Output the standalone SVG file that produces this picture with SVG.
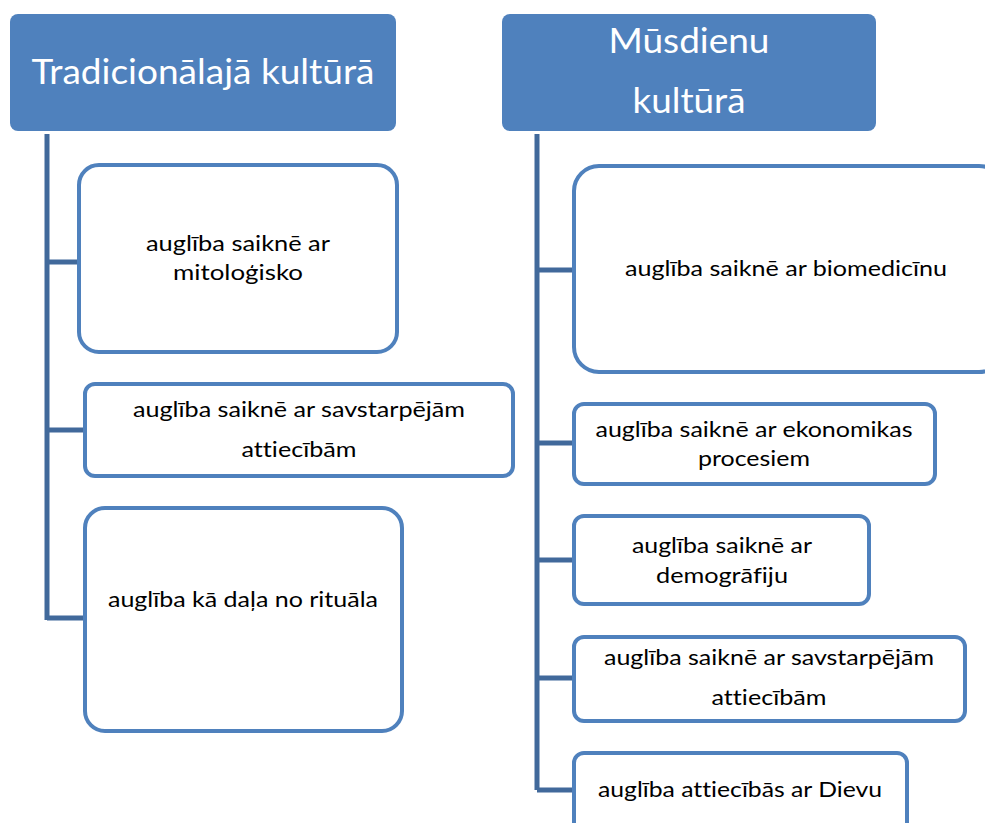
<svg xmlns="http://www.w3.org/2000/svg" width="985" height="823" viewBox="0 0 985 823">
<style>
.hdr{fill:#4F81BD;}
.box{fill:#FFFFFF;stroke:#4F81BD;stroke-width:4;}
.conn{fill:none;stroke:#41699B;stroke-width:5;}
.ht{font-family:Lato,"Liberation Sans",Arial,sans-serif;font-size:34px;fill:#FFFFFF;text-anchor:middle;font-variant-ligatures:none;}
.bt{font-family:Lato,"Liberation Sans",Arial,sans-serif;font-size:21px;fill:#000000;text-anchor:middle;font-variant-ligatures:none;}
</style>
<rect width="985" height="823" fill="#FFFFFF"/>
<g id="connectors">
<path class="conn" d="M47,134 V620 M47,262 H80 M47,430 H86 M47,618 H86"/>
<path class="conn" d="M537,134 V790 M537,270 H575 M537,443 H575 M537,560 H575 M537,678 H575 M537,790 H575"/>
</g>
<g id="hdr-left">
<rect class="hdr" x="10" y="14" width="386" height="117" rx="8"/>
<text class="ht" x="203" y="84" textLength="343" lengthAdjust="spacingAndGlyphs">Tradicionālajā kultūrā</text>
</g>
<g id="hdr-right">
<rect class="hdr" x="502" y="14" width="374" height="117" rx="8"/>
<text class="ht" x="689" y="53" textLength="161" lengthAdjust="spacingAndGlyphs">Mūsdienu</text>
<text class="ht" x="689" y="113" textLength="113" lengthAdjust="spacingAndGlyphs">kultūrā</text>
</g>
<g id="l1">
<rect class="box" x="79" y="165" width="318" height="187" rx="20"/>
<text class="bt" x="238" y="251" textLength="184" lengthAdjust="spacingAndGlyphs">auglība saiknē ar</text>
<text class="bt" x="238" y="280" textLength="130" lengthAdjust="spacingAndGlyphs">mitoloģisko</text>
</g>
<g id="l2">
<rect class="box" x="85" y="384" width="428" height="92" rx="10"/>
<text class="bt" x="299" y="417" textLength="332" lengthAdjust="spacingAndGlyphs">auglība saiknē ar savstarpējām</text>
<text class="bt" x="299" y="457" textLength="115" lengthAdjust="spacingAndGlyphs">attiecībām</text>
</g>
<g id="l3">
<rect class="box" x="85" y="508" width="317" height="223" rx="20"/>
<text class="bt" x="243" y="607" textLength="270" lengthAdjust="spacingAndGlyphs">auglība kā daļa no rituāla</text>
</g>
<g id="r1">
<rect class="box" x="574" y="166" width="430" height="206" rx="25"/>
<text class="bt" x="786" y="276" textLength="322" lengthAdjust="spacingAndGlyphs">auglība saiknē ar biomedicīnu</text>
</g>
<g id="r2">
<rect class="box" x="574" y="404" width="361" height="80" rx="10"/>
<text class="bt" x="754" y="437" textLength="317" lengthAdjust="spacingAndGlyphs">auglība saiknē ar ekonomikas</text>
<text class="bt" x="754" y="466" textLength="112" lengthAdjust="spacingAndGlyphs">procesiem</text>
</g>
<g id="r3">
<rect class="box" x="574" y="516" width="295" height="88" rx="10"/>
<text class="bt" x="722" y="553" textLength="180" lengthAdjust="spacingAndGlyphs">auglība saiknē ar</text>
<text class="bt" x="722" y="583" textLength="132" lengthAdjust="spacingAndGlyphs">demogrāfiju</text>
</g>
<g id="r4">
<rect class="box" x="574" y="637" width="391" height="84" rx="10"/>
<text class="bt" x="769" y="665" textLength="330" lengthAdjust="spacingAndGlyphs">auglība saiknē ar savstarpējām</text>
<text class="bt" x="769" y="705" textLength="115" lengthAdjust="spacingAndGlyphs">attiecībām</text>
</g>
<g id="r5">
<rect class="box" x="574" y="753" width="333" height="90" rx="10"/>
<text class="bt" x="740" y="797" textLength="284" lengthAdjust="spacingAndGlyphs">auglība attiecībās ar Dievu</text>
</g>
</svg>
